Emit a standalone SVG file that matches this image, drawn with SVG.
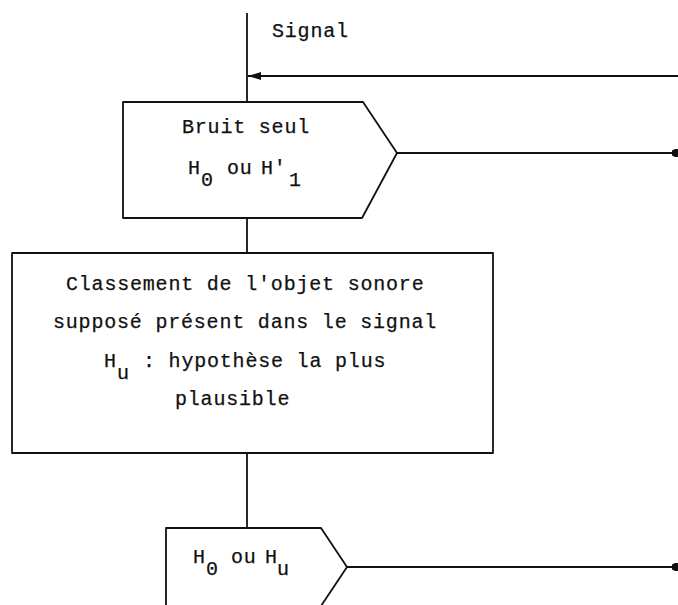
<svg xmlns="http://www.w3.org/2000/svg" width="678" height="605" viewBox="0 0 678 605">
<defs>
<style>
.ln{fill:none;stroke:#111;stroke-width:1.8;stroke-linejoin:round}
.bx{fill:#fff;stroke:#111;stroke-width:1.8;stroke-linejoin:round}
.t{font-family:"Liberation Mono","DejaVu Sans Mono",monospace;font-size:20px;letter-spacing:0.8px;fill:#111;stroke:#111;stroke-width:0.25}
</style>
<marker id="arr" markerUnits="userSpaceOnUse" markerWidth="14" markerHeight="10" viewBox="0 0 14 10" refX="13" refY="5" orient="auto">
<path d="M0,1 L13,5 L0,9 z" fill="#111"/>
</marker>
<marker id="blob" markerUnits="userSpaceOnUse" markerWidth="6" markerHeight="9" viewBox="0 0 6 9" refX="6" refY="4.5" orient="auto">
<path d="M0,2 L3,0.5 L6,0.5 L6,8.5 L3,8.5 L0,7 z" fill="#111"/>
</marker>
</defs>
<rect width="678" height="605" fill="#fff"/>
<g id="connectors">
<line class="ln" x1="247" y1="13" x2="247" y2="102"/>
<line class="ln" x1="678" y1="76" x2="248" y2="76" marker-end="url(#arr)"/>
<line class="ln" x1="397" y1="153" x2="678" y2="153" marker-end="url(#blob)"/>
<line class="ln" x1="247" y1="218" x2="247" y2="253"/>
<line class="ln" x1="247" y1="453" x2="247" y2="528"/>
<line class="ln" x1="347" y1="567" x2="678" y2="567" marker-end="url(#blob)"/>
<text class="t" x="272" y="37">Signal</text>
</g>
<g id="node-bruit-seul">
<path class="bx" d="M123,102 L363,102 L397,153 L362,218 L123,218 Z"/>
<text class="t" x="182" y="133">Bruit seul</text>
<text class="t" x="188" y="174">H</text>
<text class="t" x="201" y="186">0</text>
<text class="t" x="227" y="174">ou</text>
<text class="t" x="261" y="174">H'</text>
<text class="t" x="289" y="186">1</text>
</g>
<g id="node-classement">
<rect class="bx" x="12" y="253" width="481" height="200"/>
<text class="t" x="66" y="290">Classement de l'objet sonore</text>
<text class="t" x="53" y="328">supposé présent dans le signal</text>
<text class="t" x="104" y="367">H</text>
<text class="t" x="117" y="379">u</text>
<text class="t" x="143" y="367">: hypothèse la plus</text>
<text class="t" x="175" y="405">plausible</text>
</g>
<g id="node-decision">
<path class="bx" d="M321,528 L347,567 L321,606 L166,606 L166,528 Z"/>
<text class="t" x="193" y="563">H</text>
<text class="t" x="206" y="575">0</text>
<text class="t" x="231" y="563">ou</text>
<text class="t" x="265" y="563">H</text>
<text class="t" x="277" y="575">u</text>
</g>
</svg>
